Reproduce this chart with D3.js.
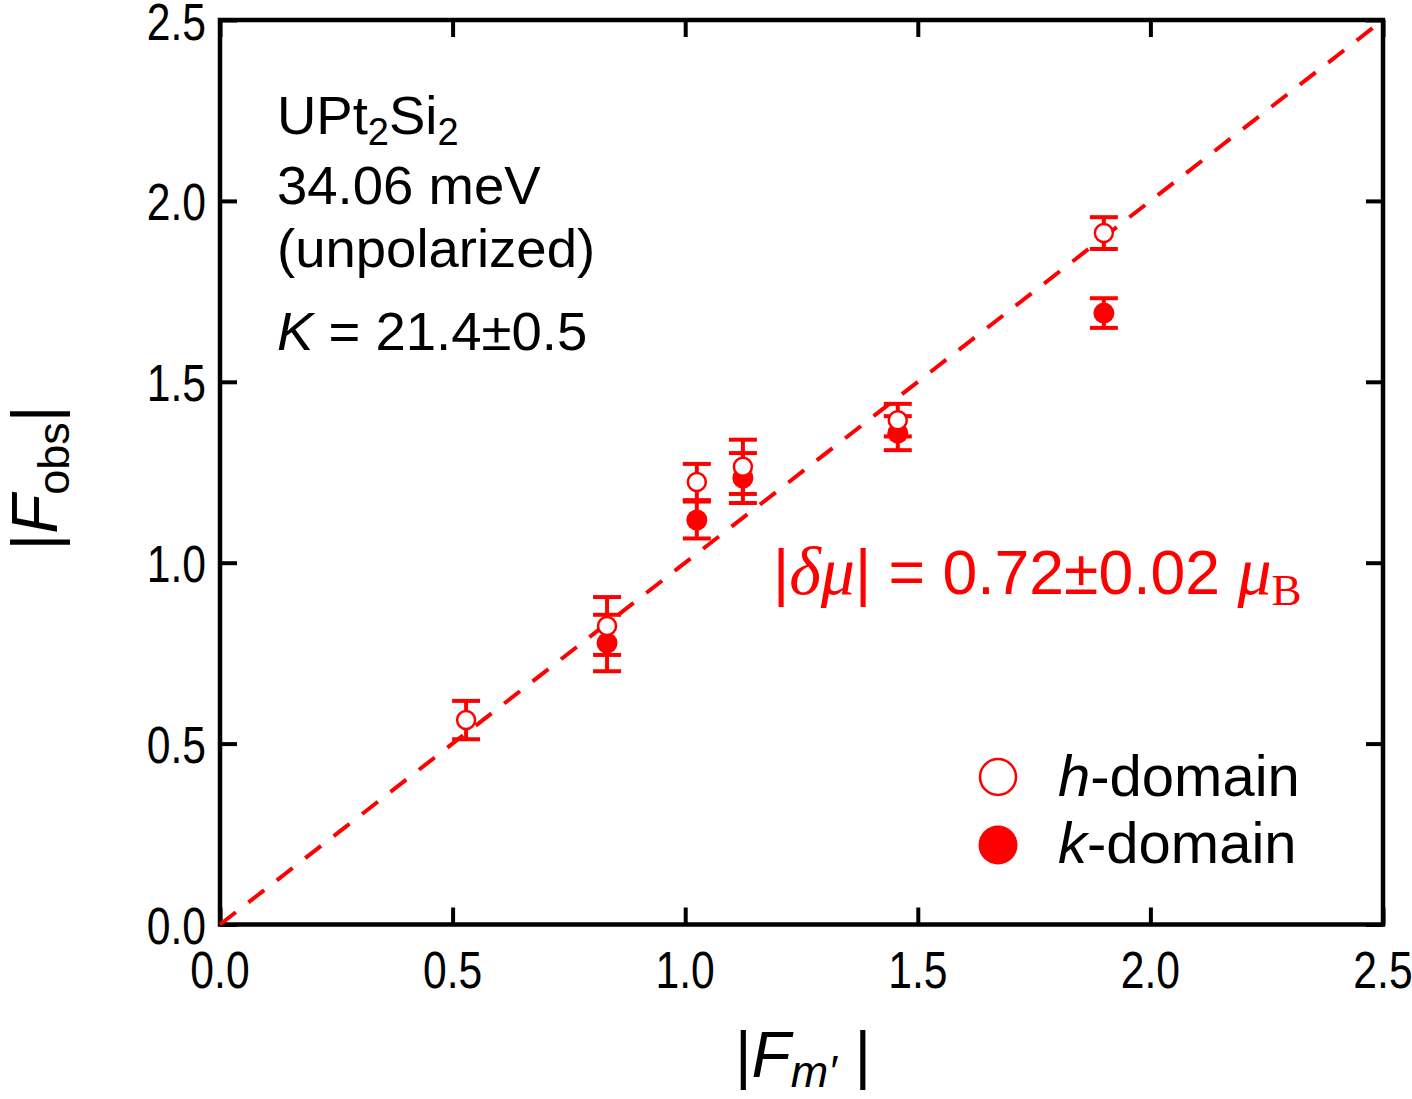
<!DOCTYPE html>
<html><head><meta charset="utf-8">
<script src="https://cdn.jsdelivr.net/npm/d3@7"></script>
<style>body{margin:0;background:#fff}svg{display:block}</style>
</head><body>
<svg id="c" width="1412" height="1099"></svg>
<script>
const fm    = [0.529, 0.832, 1.025, 1.124, 1.457, 1.900];
const hObs  = [0.565, 0.825, 1.223, 1.265, 1.394, 1.911];
const hErr  = [0.053, 0.080, 0.050, 0.075, 0.045, 0.044];
const kObs  = [null, 0.778, 1.118, 1.234, 1.358, 1.690];
const kErr  = [null, 0.078, 0.051, 0.069, 0.047, 0.041];
const tickVals = [0, 0.5, 1.0, 1.5, 2.0, 2.5];
const tickLabels = ["0.0", "0.5", "1.0", "1.5", "2.0", "2.5"];
const lineFit = [[0, 0], [2.5, 2.5]];

const RED = "#ff0000";
const svg = d3.select("#c");
const x = d3.scaleLinear().domain([0, 2.5]).range([220, 1383]);
const y = d3.scaleLinear().domain([0, 2.5]).range([924.5, 20]);
const SANS = "'Liberation Sans', Arial, Helvetica, sans-serif";
const SERIF = "'Liberation Serif', 'Times New Roman', serif";

// axes with inward ticks
const tl = 17;
const gB = svg.append("g").attr("transform", `translate(0,${y(0)})`)
  .call(d3.axisBottom(x).tickValues(tickVals).tickSize(-tl).tickFormat(""));
const gT = svg.append("g").attr("transform", `translate(0,${y(2.5)})`)
  .call(d3.axisTop(x).tickValues(tickVals).tickSize(-tl).tickFormat(""));
const gL = svg.append("g").attr("transform", `translate(${x(0)},0)`)
  .call(d3.axisLeft(y).tickValues(tickVals).tickSize(-tl).tickFormat(""));
const gR = svg.append("g").attr("transform", `translate(${x(2.5)},0)`)
  .call(d3.axisRight(y).tickValues(tickVals).tickSize(-tl).tickFormat(""));
[gB, gT, gL, gR].forEach(g => {
  g.selectAll(".domain").remove();
  g.selectAll(".tick line").attr("stroke", "#000").attr("stroke-width", 4);
});
svg.append("rect").attr("x", x(0)).attr("y", y(2.5))
  .attr("width", x(2.5) - x(0)).attr("height", y(0) - y(2.5))
  .attr("fill", "none").attr("stroke", "#000").attr("stroke-width", 4.5);

// tick labels (condensed)
tickVals.forEach((v, i) => {
  svg.append("text").attr("transform", `translate(${x(v)},988) scale(0.82,1)`)
    .attr("text-anchor", "middle").attr("font-family", SANS).attr("font-size", 52)
    .text(tickLabels[i]);
  svg.append("text").attr("transform", `translate(206,${Math.max(y(v) + 19, 40)}) scale(0.82,1)`)
    .attr("text-anchor", "end").attr("font-family", SANS).attr("font-size", 52)
    .text(tickLabels[i]);
});

// dashed line
svg.append("path").datum(lineFit)
  .attr("d", d3.line().x(d => x(d[0])).y(d => y(d[1])))
  .attr("stroke", RED).attr("stroke-width", 4).attr("fill", "none")
  .attr("stroke-dasharray", "20,16");

// error bars
function errBars(obs, err) {
  fm.forEach((f, i) => {
    if (obs[i] == null) return;
    const cx = x(f), y1 = y(obs[i] - err[i]), y2 = y(obs[i] + err[i]);
    const g = svg.append("g").attr("stroke", RED).attr("stroke-width", 4);
    g.append("line").attr("x1", cx).attr("x2", cx).attr("y1", y1).attr("y2", y2);
    g.append("line").attr("x1", cx - 14).attr("x2", cx + 14).attr("y1", y1).attr("y2", y1);
    g.append("line").attr("x1", cx - 14).attr("x2", cx + 14).attr("y1", y2).attr("y2", y2);
  });
}
errBars(kObs, kErr);
errBars(hObs, hErr);

// points
fm.forEach((f, i) => {
  if (kObs[i] != null)
    svg.append("circle").attr("cx", x(f)).attr("cy", y(kObs[i])).attr("r", 10.5).attr("fill", RED);
});
fm.forEach((f, i) => {
  svg.append("circle").attr("cx", x(f)).attr("cy", y(hObs[i])).attr("r", 9)
    .attr("fill", "#fff").attr("stroke", RED).attr("stroke-width", 2.5);
});

// annotation text
const ann = svg.append("g").attr("font-family", SANS).attr("font-size", 54.5).attr("fill", "#000");
const t1 = ann.append("text").attr("x", 277).attr("y", 134);
t1.append("tspan").text("UPt");
t1.append("tspan").attr("font-size", 38).attr("dy", 11).text("2");
t1.append("tspan").attr("dy", -11).text("Si");
t1.append("tspan").attr("font-size", 38).attr("dy", 11).text("2");
ann.append("text").attr("x", 277).attr("y", 204).text("34.06 meV");
ann.append("text").attr("x", 277).attr("y", 267).text("(unpolarized)");
const t4 = ann.append("text").attr("x", 277).attr("y", 350);
t4.append("tspan").attr("font-style", "italic").text("K");
t4.append("tspan").text(" = 21.4±0.5");

// red annotation
const r = svg.append("text").attr("x", 773).attr("y", 594).attr("fill", RED)
  .attr("font-family", SANS).attr("font-size", 62.5);
r.append("tspan").text("|");
r.append("tspan").attr("font-family", SERIF).attr("font-style", "italic").attr("font-size", 68).text("δμ");
r.append("tspan").text("| = 0.72±0.02 ");
r.append("tspan").attr("font-family", SERIF).attr("font-style", "italic").attr("font-size", 68).text("μ");
r.append("tspan").attr("font-family", SERIF).attr("font-size", 45).attr("dy", 11).text("B");

// legend
svg.append("circle").attr("cx", 998).attr("cy", 777).attr("r", 18)
  .attr("fill", "#fff").attr("stroke", RED).attr("stroke-width", 2.5);
svg.append("circle").attr("cx", 998).attr("cy", 845).attr("r", 19.5).attr("fill", RED);
const lg = svg.append("g").attr("font-family", SANS).attr("font-size", 58);
const l1 = lg.append("text").attr("x", 1058).attr("y", 796);
l1.append("tspan").attr("font-style", "italic").text("h");
l1.append("tspan").text("-domain");
const l2 = lg.append("text").attr("x", 1058).attr("y", 863);
l2.append("tspan").attr("font-style", "italic").text("k");
l2.append("tspan").text("-domain");

// axis labels
const xl = svg.append("text").attr("x", 803).attr("y", 1077).attr("text-anchor", "middle")
  .attr("font-family", SANS).attr("font-size", 64);
xl.append("tspan").text("|");
xl.append("tspan").attr("font-style", "italic").text("F");
xl.append("tspan").attr("font-style", "italic").attr("font-size", 45).attr("dy", 10).text("m′");
xl.append("tspan").attr("dy", -10).text(" |");

const yl = svg.append("text").attr("transform", "translate(57,478) rotate(-90)")
  .attr("text-anchor", "middle").attr("font-family", SANS).attr("font-size", 64);
yl.append("tspan").text("|");
yl.append("tspan").attr("font-style", "italic").text("F");
yl.append("tspan").attr("font-size", 45).attr("dy", 12).text("obs");
yl.append("tspan").attr("dy", -12).text("|");
</script>
</body></html>
